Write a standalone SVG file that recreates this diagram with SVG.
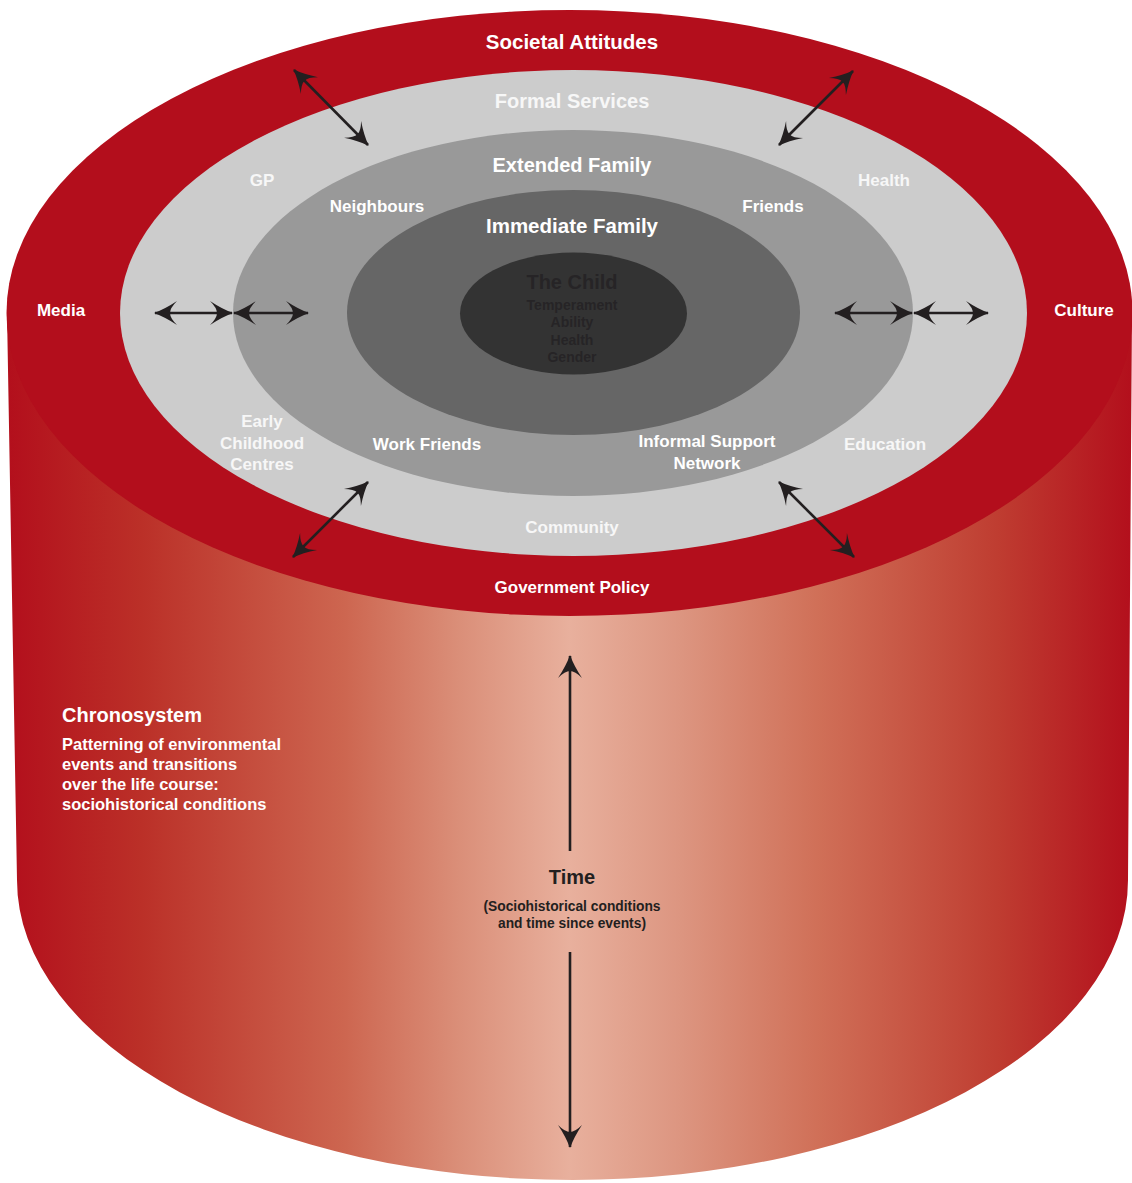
<svg xmlns="http://www.w3.org/2000/svg" width="1132" height="1183" viewBox="0 0 1132 1183">
<style>
.t{font-family:"Liberation Sans",Arial,sans-serif;font-weight:bold;text-anchor:middle}
.w{fill:#ffffff}
.lg{fill:#f7f7f7}
.dk{fill:#231f20}
.ch{fill:#262426}
.ar{stroke:#231f20;stroke-width:2.6;fill:none;marker-start:url(#ah);marker-end:url(#ah)}
.ar1{stroke:#231f20;stroke-width:2.6;fill:none;marker-end:url(#ah)}
</style>
<defs>
<linearGradient id="body" gradientUnits="userSpaceOnUse" x1="7" y1="0" x2="1132" y2="0">
<stop offset="0" stop-color="#b30f1c"/>
<stop offset="0.12" stop-color="#bb3028"/>
<stop offset="0.3" stop-color="#cd6650"/>
<stop offset="0.4" stop-color="#da8e78"/>
<stop offset="0.5" stop-color="#e8b09d"/>
<stop offset="0.6" stop-color="#dc9580"/>
<stop offset="0.72" stop-color="#d07058"/>
<stop offset="0.88" stop-color="#bf3d31"/>
<stop offset="1" stop-color="#b30f1c"/>
</linearGradient>
<marker id="ah" markerUnits="userSpaceOnUse" markerWidth="26" markerHeight="28" viewBox="-24 -14 26 28" refX="0" refY="0" orient="auto-start-reverse">
<path d="M1,0 Q-10,-4 -22,-12 Q-15,-5 -15,0 Q-15,5 -22,12 Q-10,4 1,0 Z" fill="#231f20"/>
</marker>
</defs>

<g id="cylinder-body">
<path d="M7,313 L17,880 A555.5,300 0 0 0 1128,880 L1132,313 Z" fill="url(#body)"/>
</g>

<g id="macrosystem">
<ellipse cx="569.5" cy="313" rx="563" ry="303" fill="#b30e1c"/>
</g>
<g id="exosystem">
<ellipse cx="573.5" cy="313" rx="453.5" ry="243" fill="#cccccc"/>
</g>
<g id="mesosystem">
<ellipse cx="573" cy="313" rx="340" ry="183" fill="#999999"/>
</g>
<g id="microsystem">
<ellipse cx="573.5" cy="312.5" rx="226.5" ry="122.5" fill="#666666"/>
</g>
<g id="child">
<ellipse cx="573.5" cy="313.5" rx="113.5" ry="61" fill="#333333"/>
<text class="t ch" x="572" y="289" font-size="20">The Child</text>
<text class="t ch" x="572" y="310" font-size="14">Temperament</text>
<text class="t ch" x="572" y="327" font-size="14">Ability</text>
<text class="t ch" x="572" y="345" font-size="14">Health</text>
<text class="t ch" x="572" y="362" font-size="14">Gender</text>
</g>

<g id="labels-macro">
<text class="t w" x="572" y="49" font-size="20.5">Societal Attitudes</text>
<text class="t w" x="61" y="316" font-size="17">Media</text>
<text class="t w" x="1084" y="316" font-size="17">Culture</text>
<text class="t w" x="572" y="593" font-size="17">Government Policy</text>
</g>
<g id="labels-exo">
<text class="t lg" x="572" y="108" font-size="20">Formal Services</text>
<text class="t lg" x="262" y="186" font-size="17">GP</text>
<text class="t lg" x="884" y="186" font-size="17">Health</text>
<text class="t lg" x="262" y="427" font-size="17">Early</text>
<text class="t lg" x="262" y="449" font-size="17">Childhood</text>
<text class="t lg" x="262" y="470" font-size="17">Centres</text>
<text class="t lg" x="885" y="450" font-size="17">Education</text>
<text class="t lg" x="572" y="533" font-size="17">Community</text>
</g>
<g id="labels-meso">
<text class="t w" x="572" y="172" font-size="20">Extended Family</text>
<text class="t w" x="377" y="212" font-size="17">Neighbours</text>
<text class="t w" x="773" y="212" font-size="17">Friends</text>
<text class="t w" x="427" y="450" font-size="17">Work Friends</text>
<text class="t w" x="707" y="447" font-size="17">Informal Support</text>
<text class="t w" x="707" y="469" font-size="17">Network</text>
</g>
<g id="labels-micro">
<text class="t w" x="572" y="233" font-size="20.5">Immediate Family</text>
</g>

<g id="chronosystem">
<text class="t w" x="62" y="722" font-size="20" style="text-anchor:start">Chronosystem</text>
<text class="t w" x="62" y="750" font-size="16.5" style="text-anchor:start">Patterning of environmental</text>
<text class="t w" x="62" y="770" font-size="16.5" style="text-anchor:start">events and transitions</text>
<text class="t w" x="62" y="790" font-size="16.5" style="text-anchor:start">over the life course:</text>
<text class="t w" x="62" y="810" font-size="16.5" style="text-anchor:start">sociohistorical conditions</text>
</g>
<g id="time">
<text class="t dk" x="572" y="884" font-size="20">Time</text>
<text class="t dk" x="572" y="911" font-size="13.8">(Sociohistorical conditions</text>
<text class="t dk" x="572" y="928" font-size="13.8">and time since events)</text>
</g>

<g id="connectors">
<line class="ar" x1="155" y1="313" x2="232" y2="313"/>
<line class="ar" x1="234" y1="313" x2="308" y2="313"/>
<line class="ar" x1="835" y1="313" x2="912" y2="313"/>
<line class="ar" x1="914" y1="313" x2="988" y2="313"/>
<line class="ar" x1="294" y1="70" x2="368" y2="145"/>
<line class="ar" x1="853" y1="71" x2="779" y2="145"/>
<line class="ar" x1="368" y1="482" x2="293" y2="557"/>
<line class="ar" x1="779" y1="482" x2="854" y2="557"/>
<line class="ar1" x1="570" y1="851" x2="570" y2="656"/>
<line class="ar1" x1="570" y1="952" x2="570" y2="1147"/>
</g>
</svg>
